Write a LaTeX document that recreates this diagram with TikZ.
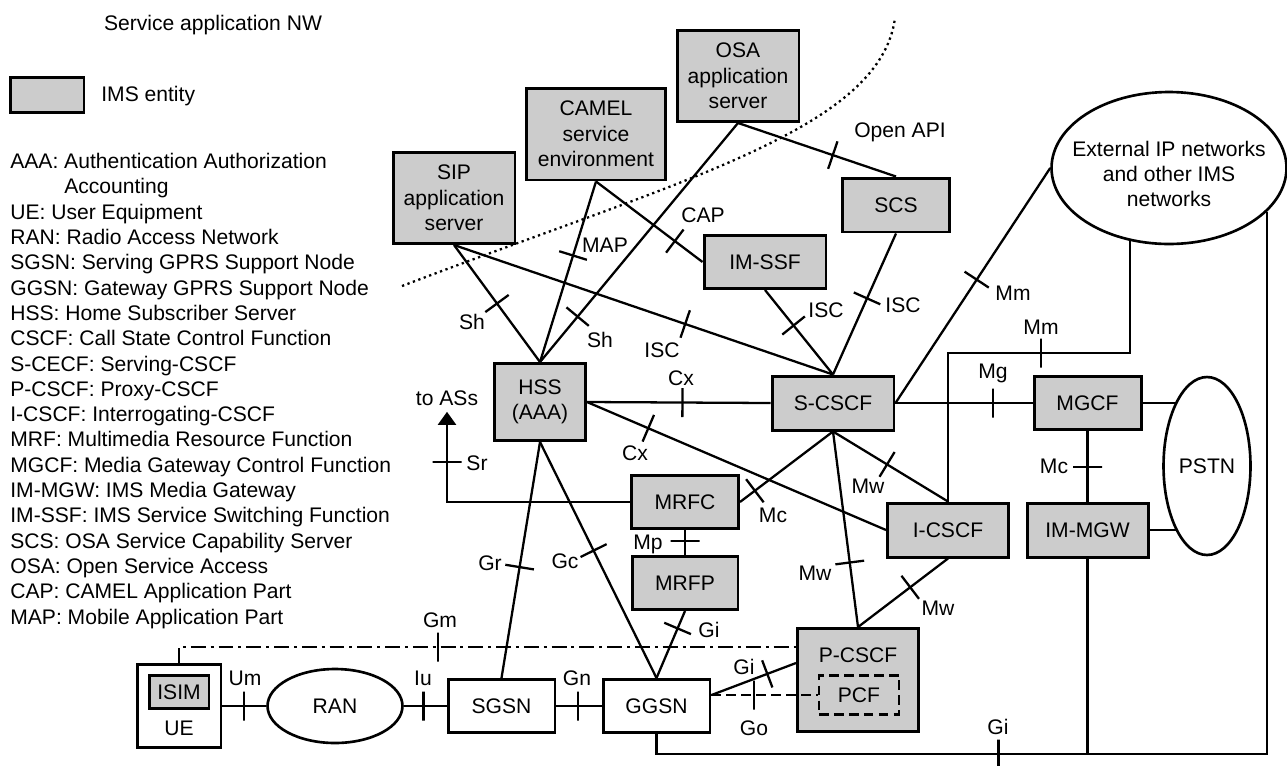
\documentclass[tikz,border=0pt]{standalone}
\usepackage{fontspec}
\setmainfont{Liberation Sans}
\usepackage{tikz}
\usetikzlibrary{shapes.geometric,arrows.meta,calc}

\begin{document}
\begin{tikzpicture}[x=0.02cm, y=-0.02cm,
  font=\fontsize{12}{14.4}\selectfont,
  every node/.style={inner sep=0pt},
  ims/.style={draw, fill=black!20, line width=1.7pt, align=center},
  plain/.style={draw, fill=white, line width=1.7pt, align=center},
  net/.style={draw, ellipse, line width=1.5pt, align=center},
  lbl/.style={inner sep=0pt},
  link/.style={line width=1.3pt},
  every edge/.style={draw, line width=1.3pt},
  tick/.style={draw, solid, sloped, line width=1.3pt, minimum width=0pt, minimum height=0.58cm, inner sep=0pt},
  gmline/.style={dash pattern=on 8.5pt off 2.8pt on 1.7pt off 2.8pt},
  goline/.style={dash pattern=on 5.5pt off 3pt}
]
\useasboundingbox (0,0) rectangle (1287,765);

\node[lbl] (title) at (213,25) {Service application NW};
\node[ims, minimum width=1.48cm, minimum height=0.7cm] (key) at (47,95) {};
\node[lbl, anchor=west] (keytxt) at (101,96) {IMS entity};
\node[lbl, anchor=north west, align=left] (abbr) at (10,153) {AAA: Authentication Authorization\\
\phantom{AAA: }Accounting\\
UE: User Equipment\\
RAN: Radio Access Network\\
SGSN: Serving GPRS Support Node\\
GGSN: Gateway GPRS Support Node\\
HSS: Home Subscriber Server\\
CSCF: Call State Control Function\\
S-CECF: Serving-CSCF\\
P-CSCF: Proxy-CSCF\\
I-CSCF: Interrogating-CSCF\\
MRF: Multimedia Resource Function\\
MGCF: Media Gateway Control Function\\
IM-MGW: IMS Media Gateway\\
IM-SSF: IMS Service Switching Function\\
SCS: OSA Service Capability Server\\
OSA: Open Service Access\\
CAP: CAMEL Application Part\\
MAP: Mobile Application Part};

\node[ims, minimum width=2.44cm, minimum height=1.82cm] (sip) at (454,198) {SIP\\application\\server};
\node[ims, minimum width=2.78cm, minimum height=1.84cm] (camel) at (596,134) {CAMEL\\service\\environment};
\node[ims, minimum width=2.44cm, minimum height=1.82cm] (osa) at (738,76) {OSA\\application\\server};
\node[ims, minimum width=2.44cm, minimum height=1.06cm] (imssf) at (765,262) {IM-SSF};
\node[ims, minimum width=2.14cm, minimum height=1.08cm] (scs) at (896,205) {SCS};
\node[net, minimum width=4.7cm, minimum height=3.04cm,
  label={[align=center, yshift=-0.12cm]center:{External IP networks\\and other IMS\\networks}}] (ext) at (1169,168) {};
\node[ims, minimum width=1.82cm, minimum height=1.54cm] (hss) at (540,402) {HSS\\(AAA)};
\node[ims, minimum width=2.44cm, minimum height=1.08cm] (scscf) at (833,403) {S-CSCF};
\node[ims, minimum width=2.14cm, minimum height=1.06cm] (mgcf) at (1087.5,403) {MGCF};
\node[net, minimum width=1.74cm, minimum height=3.56cm] (pstn) at (1207,466) {PSTN};
\node[ims, minimum width=2.14cm, minimum height=1.06cm] (mrfc) at (685,502) {MRFC};
\node[ims, minimum width=2.12cm, minimum height=1.06cm] (mrfp) at (685,583) {MRFP};
\node[ims, minimum width=2.42cm, minimum height=1.08cm] (icscf) at (948,530) {I-CSCF};
\node[ims, minimum width=2.42cm, minimum height=1.08cm] (immgw) at (1087.5,530) {IM-MGW};
\node[ims, minimum width=2.42cm, minimum height=2.06cm,
  label={[label distance=-0.72cm]north:P-CSCF}] (pcscf) at (858,680) {};
\node[draw, goline, line width=1.5pt, minimum width=1.6cm, minimum height=0.78cm] (pcf) at (859,695) {PCF};
\node[plain, minimum width=1.68cm, minimum height=1.66cm,
  label={[label distance=-0.56cm]south:UE}] (ue) at (179,706) {};
\node[ims, minimum width=1.2cm, minimum height=0.66cm] (isim) at (179,692) {ISIM};
\node[net, minimum width=2.7cm, minimum height=1.48cm] (ran) at (335,706) {RAN};
\node[plain, minimum width=2.14cm, minimum height=1.06cm] (sgsn) at (501.5,706) {SGSN};
\node[plain, minimum width=2.14cm, minimum height=1.06cm] (ggsn) at (656.5,706) {GGSN};
\node[lbl] (toas) at (447,398) {to ASs};

\draw[line width=1.3pt, dotted] (402,286) .. controls (680,180) and (880,130) .. (895,18);

\path
  (sip.south) edge node[tick, pos=.5] (tSh1) {} (hss.north)
  (camel.south) edge node[tick, pos=.41] (tMAP) {} (hss.north)
  (osa.south) edge node[tick, pos=.81] (tSh2) {} (hss.north)
  (camel.south) edge node[tick, pos=.74] (tCAP) {} (imssf.west)
  (osa.south) edge node[tick, pos=.6] (tAPI) {} (scs.north)
  (sip.south) edge node[tick, pos=.61] (tISC1) {} (scscf.north)
  (imssf.south) edge node[tick, pos=.42] (tISC2) {} (scscf.north)
  (scs.south) edge node[tick, pos=.46] (tISC3) {} (scscf.north)
  (ext.west) edge node[tick, pos=.475] (tMm1) {} (scscf.east)
  (hss.east) edge node[tick, pos=.52] (tCx1) {} (scscf.west)
  (hss.east) edge node[tick, pos=.205] (tCx2) {} (icscf.west)
  (scscf.east) edge node[tick, pos=.71] (tMg) {} (mgcf.west)
  (scscf.south) edge node[tick, pos=.84] (tMc1) {} (mrfc.east)
  (scscf.south) edge node[tick, pos=.47] (tMw1) {} (icscf.north)
  (scscf.south) edge node[tick, pos=.67] (tMw2) {} (pcscf.north)
  (icscf.south) edge node[tick, pos=.42] (tMw3) {} (pcscf.north)
  (mrfc.south) edge node[tick, pos=.45] (tMp) {} (mrfp.north)
  (mgcf.south) edge node[tick, pos=.51] (tMc2) {} (immgw.north)
  (mrfp.south) edge node[tick, pos=.26] (tGi1) {} (ggsn.north)
  (hss.south) edge node[tick, pos=.53] (tGr) {} (sgsn.north)
  (hss.south) edge node[tick, pos=.46] (tGc) {} (ggsn.north)
  (ue.east) edge node[tick, pos=.5] (tUm) {} (ran.west)
  (ran.east) edge node[tick, pos=.46] (tIu) {} (sgsn.west)
  (sgsn.east) edge node[tick, pos=.48] (tGn) {} (ggsn.west)
  (mgcf.east) edge (mgcf.east -| pstn.115)
  (immgw.east) edge (immgw.east -| pstn.-115)
  ;

\coordinate (gw) at (ggsn.east |- pcf.west);
\coordinate (mmbend) at (1130,353);
\coordinate (gi) at (1267,754);
\draw[link] (gw) -- node[tick, pos=.66] (tGi2) {} ([yshift=0.34cm]pcscf.west);
\draw[link, goline] (gw) -- node[tick, pos=.4] (tGo) {} (pcf.west);
\draw[link, gmline] (ue.north) |- node[tick, pos=.71] (tGm) {} ([yshift=0.66cm]pcscf.west);
\draw[link, -{Triangle[width=0.36cm, length=0.26cm]}] (mrfc.west) -| node[tick, pos=.72] (tSr) {} ([yshift=-0.12cm]toas.south);
\draw[link] (ext.-118.5) -- (ext.-118.5 |- mmbend) -| node[tick, pos=.245] (tMm2) {} (icscf.north);
\draw[link] (ggsn.south) |- node[tick, pos=.78] (tGi3) {} (gi) -- (gi |- ext.-24);
\draw[link] (immgw.south) -- (immgw.south |- gi);

\node[lbl] (lSh1) at (472,322) {Sh};
\node[lbl] (lMAP) at (605,245) {MAP};
\node[lbl] (lSh2) at (600,340) {Sh};
\node[lbl] (lCAP) at (703,215) {CAP};
\node[lbl] (lAPI) at (900,132) {Open API};
\node[lbl] (lISC1) at (662,350) {ISC};
\node[lbl] (lISC2) at (826,310) {ISC};
\node[lbl] (lISC3) at (903,305) {ISC};
\node[lbl] (lMm1) at (1013,293) {Mm};
\node[lbl] (lMm2) at (1041,327) {Mm};
\node[lbl] (lMg) at (993,373) {Mg};
\node[lbl] (lCx1) at (681,378) {Cx};
\node[lbl] (lCx2) at (635,453) {Cx};
\node[lbl] (lSr) at (477,463) {Sr};
\node[lbl] (lMc1) at (773,515) {Mc};
\node[lbl] (lMw1) at (868,486) {Mw};
\node[lbl] (lMp) at (648,544) {Mp};
\node[lbl] (lMc2) at (1054,466) {Mc};
\node[lbl] (lMw2) at (815,573) {Mw};
\node[lbl] (lMw3) at (938,608) {Mw};
\node[lbl] (lGr) at (490,563) {Gr};
\node[lbl] (lGc) at (565,561) {Gc};
\node[lbl] (lGi1) at (709,630) {Gi};
\node[lbl] (lGm) at (440,620) {Gm};
\node[lbl] (lGi2) at (744,667) {Gi};
\node[lbl] (lGo) at (754,728) {Go};
\node[lbl] (lGi3) at (998,727) {Gi};
\node[lbl] (lUm) at (245,678) {Um};
\node[lbl] (lIu) at (423,678) {Iu};
\node[lbl] (lGn) at (577,678) {Gn};
\end{tikzpicture}
\end{document}
